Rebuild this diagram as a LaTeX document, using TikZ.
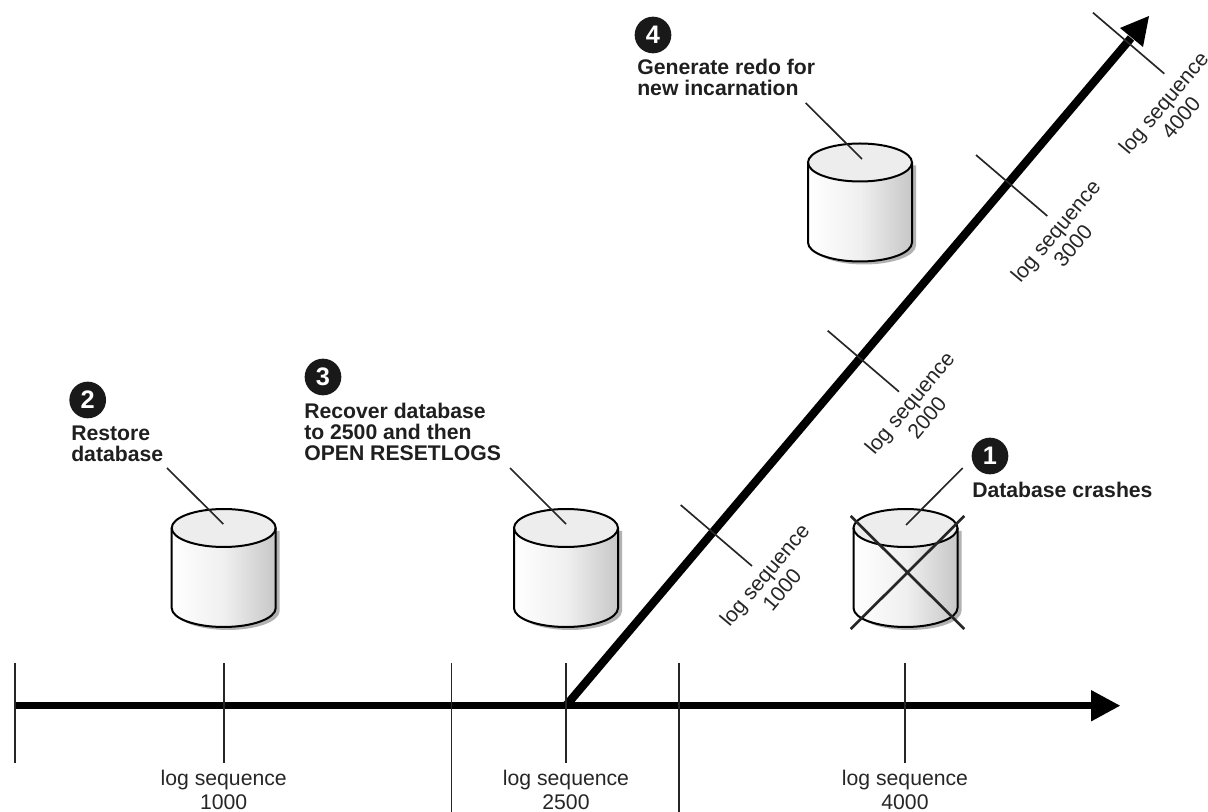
\documentclass[tikz,border=0pt]{standalone}
\usepackage{fontspec}
\setmainfont{Liberation Sans}
\usetikzlibrary{calc}
\tikzset{
  thin line/.style={draw=black!85,line width=1.25pt},
  axis line/.style={draw=black,line width=5.4pt},
  diag line/.style={draw=black,line width=6.2pt},
  head/.style={fill=black,draw=none},
  loglabel/.style={font=\fontsize{15.9pt}{18pt}\selectfont,align=center,text=black!85,inner sep=0pt},
  hlog/.style={loglabel,anchor=base},
  dlog/.style={loglabel,font=\fontsize{15.9pt}{17pt}\selectfont,rotate=50},
  steptext/.style={font=\bfseries\fontsize{15.9pt}{16pt}\selectfont,align=left,anchor=base west,text=black!88,inner sep=0pt},
  badge/.style={circle,fill=black!90,text=white,minimum size=27.5pt,inner sep=0pt,font=\bfseries\fontsize{19pt}{19pt}\selectfont},
  cyl/.pic={
    \fill[black!30] (-52+4,-80+3) -- (-52+4,0+3) arc[start angle=180,end angle=0,x radius=52,y radius=19] -- (52+4,-80+3) -- cycle;
    \shade[left color=white,right color=black!22,middle color=black!6] (-52,-80) -- (-52,0) arc[start angle=180,end angle=0,x radius=52,y radius=19] -- (52,-80) -- cycle;
    \draw[black,line width=1.5pt,fill=black!7] (0,-80) ellipse[x radius=52,y radius=19];
    \draw[black,line width=1.5pt] (-52,-80) -- (-52,0) arc[start angle=180,end angle=0,x radius=52,y radius=19] -- (52,-80);
  }
}
\begin{document}
\begin{tikzpicture}[x=0.75pt,y=-0.75pt]
\useasboundingbox (0,0) rectangle (1208,812);

% cylinders
\pic at (223.7,608) {cyl};
\pic at (566,608) {cyl};
\pic at (860,242.5) {cyl};
\pic at (905.5,608) {cyl};

% step labels
\node[badge] (b4) at (653,35) {4};
\node[steptext] (t4) at (637,96) {Generate redo for\\new incarnation};
\node[badge] (b2) at (87.7,400) {2};
\node[steptext] (t2) at (71,461.5) {Restore\\database};
\node[badge] (b3) at (323,377) {3};
\node[steptext] (t3) at (304,461) {Recover database\\to 2500 and then\\OPEN RESETLOGS};
\node[badge] (b1) at (990,456) {1};
\node[steptext] (t1) at (972,498) {Database crashes};

% leaders
\coordinate (l2a) at (167,468); \coordinate (l2b) at (223.3,524);
\coordinate (l3a) at (510,468); \coordinate (l3b) at (566,524);
\coordinate (l4a) at (805.7,103); \coordinate (l4b) at (862,159);
\coordinate (l1a) at (962.7,468); \coordinate (l1b) at (906,525);
\draw[thin line] (l2a)--(l2b);
\draw[thin line] (l3a)--(l3b);
\draw[thin line] (l4a)--(l4b);
\draw[thin line] (l1a)--(l1b);

% cross
\coordinate (xa) at (850.7,516); \coordinate (xb) at (964.3,629);
\coordinate (xc) at (964.3,516); \coordinate (xd) at (850.7,629);
\draw[black!85,line width=2pt] (xa)--(xb) (xc)--(xd);

% main axes
\coordinate (o) at (15,705.7);
\coordinate (fork) at (566,705.7);
\coordinate (hb) at (1092,705.7);
\coordinate (dend) at (1131,38);
\draw[axis line] (o)--(hb);
\fill[head] (1120,705.7)--(1091,690)--(1091,721.5)--cycle;
\draw[diag line] (fork)--(dend);
\fill[head] (1149,16)--(1120,28)--(1143,47)--cycle;

% horizontal ticks
\foreach \n/\x/\a/\b in {a/14.7/663/763,b/223.7/663/763,c/451.5/663/812,d/566/663/763,e/679.3/663/812,f/905/663/763}{
  \coordinate (t\n a) at (\x,\a); \coordinate (t\n b) at (\x,\b);
  \draw[thin line] (t\n a)--(t\n b);
}
\node[hlog] (h1) at (223.7,809.5) {log sequence\\1000};
\node[hlog] (h2) at (566,809.5) {log sequence\\2500};
\node[hlog] (h3) at (905,809.5) {log sequence\\4000};

% diagonal ticks
\foreach \n/\x/\y in {a/680.7/505,b/827.7/330.7,c/976/155,d/1093/12.7}{
  \coordinate (d\n a) at (\x,\y); \coordinate (d\n b) at (\x+71.3,\y+61);
  \draw[thin line] (d\n a)--(d\n b);
}
\node[dlog] (d1) at (773,582) {log sequence\\1000};
\node[dlog] (d2) at (918,410) {log sequence\\2000};
\node[dlog] (d3) at (1064,238) {log sequence\\3000};
\node[dlog] (d4) at (1172,110) {log sequence\\4000};
\end{tikzpicture}
\end{document}
